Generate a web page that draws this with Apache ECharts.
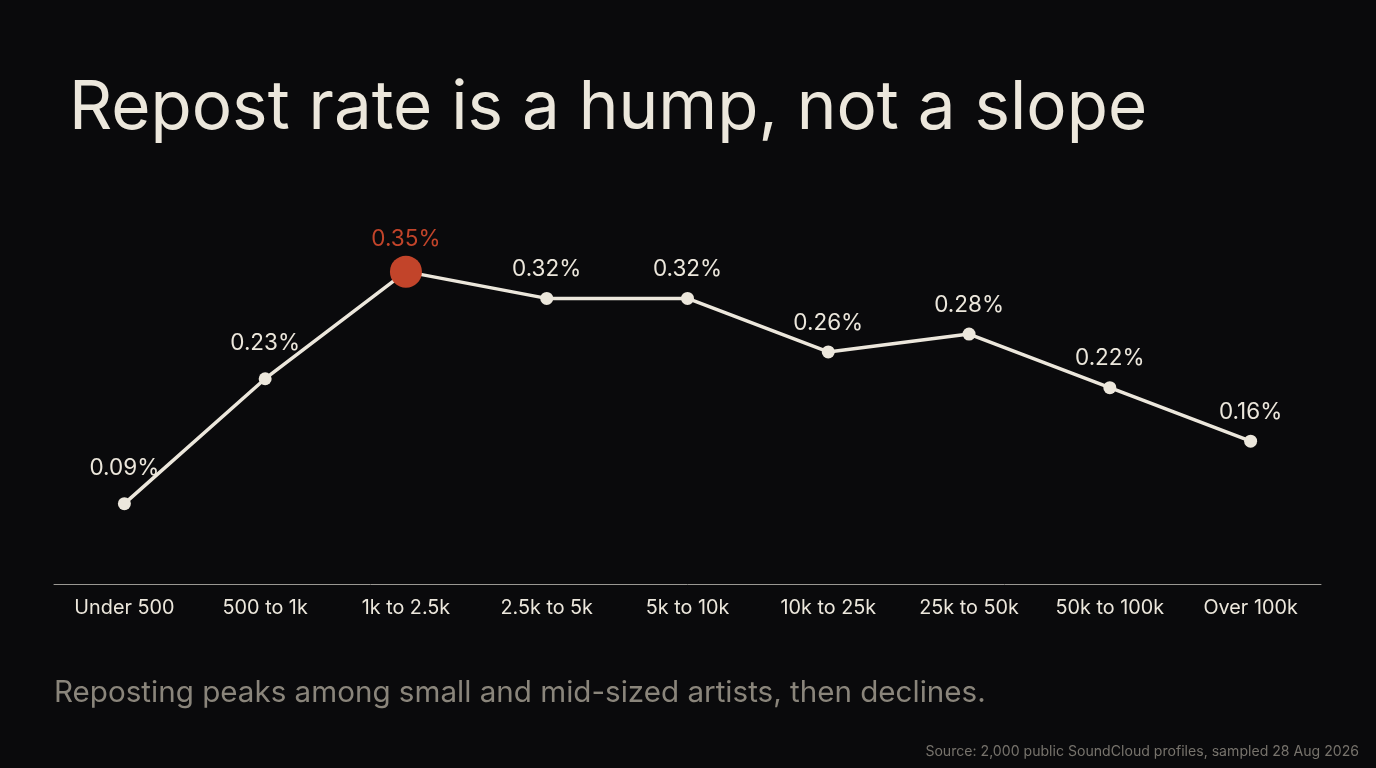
<!DOCTYPE html>
<html>
<head>
<meta charset="utf-8">
<script src="https://cdn.jsdelivr.net/npm/echarts@6/dist/echarts.min.js"></script>
<style>
	html, body { margin: 0; padding: 0; background: #0a0a0c; }
	#chart { width: 1376px; height: 768px; }
</style>
</head>
<body>
<div id="chart"></div>
<script>
var categories = ['Under 500', '500 to 1k', '1k to 2.5k', '2.5k to 5k', '5k to 10k', '10k to 25k', '25k to 50k', '50k to 100k', 'Over 100k'];
var repostRate = [0.09, 0.23, 0.35, 0.32, 0.32, 0.26, 0.28, 0.22, 0.16];
var peakIndex = 2;

var cream = '#ece7dc',
	accent = '#c2442a',
	font = 'Inter';

//每个点的样式，峰值单独高亮
var points = [];
for(var i = 0; i < repostRate.length; i++) {
	if(i == peakIndex) {
		points.push({
			value: repostRate[i],
			symbolSize: 32,
			itemStyle: { color: accent },
			label: { color: accent, distance: 5 }
		});
	} else {
		points.push({
			value: repostRate[i],
			label: { distance: i < 2 ? 17 : 11 }
		});
	}
}

var chart = echarts.init(document.getElementById('chart'));
chart.setOption({
	backgroundColor: '#0a0a0c',
	animation: false,
	textStyle: { fontFamily: font },
	title: [{
		text: 'Repost rate is a hump, not a slope',
		left: 64,
		top: 70,
		textStyle: { color: cream, fontSize: 67.3, fontWeight: 400, fontFamily: font }
	}, {
		text: 'Reposting peaks among small and mid-sized artists, then declines.',
		left: 49,
		top: 673,
		textStyle: { color: '#8a857b', fontSize: 29.6, fontWeight: 400, fontFamily: font }
	}, {
		text: 'Source: 2,000 public SoundCloud profiles, sampled 28 Aug 2026',
		right: 12,
		top: 740,
		textStyle: { color: '#77736c', fontSize: 14.1, fontWeight: 400, fontFamily: font }
	}],
	grid: {
		left: 54,
		right: 55,
		top: 227,
		bottom: 184
	},
	xAxis: {
		type: 'category',
		data: categories,
		boundaryGap: true,
		axisLine: { lineStyle: { color: '#9a9893', width: 1 } },
		axisTick: { show: false },
		axisLabel: { color: cream, fontSize: 19.8, margin: 14, interval: 0, hideOverlap: false, fontFamily: font }
	},
	yAxis: {
		type: 'value',
		min: 0,
		max: 0.4,
		show: false
	},
	series: [{
		type: 'line',
		data: points,
		symbol: 'circle',
		symbolSize: 13,
		lineStyle: { color: cream, width: 3.5 },
		itemStyle: { color: cream },
		label: {
			show: true,
			position: 'top',
			color: cream,
			fontSize: 22.5,
			fontFamily: font,
			formatter: function(p) {
				return p.value.toFixed(2) + '%';
			}
		},
		z: 3
	}]
});
</script>
</body>
</html>
